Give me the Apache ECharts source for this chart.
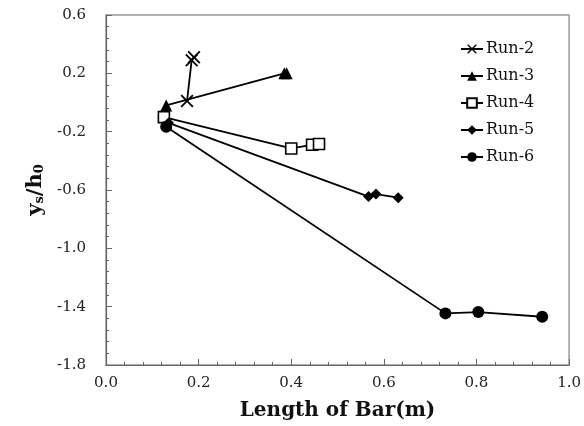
<!DOCTYPE html>
<html>
<head>
<meta charset="utf-8">
<script src="https://cdn.jsdelivr.net/npm/echarts@6/dist/echarts.min.js"></script>
<style>
  html, body { margin: 0; padding: 0; background: #fff; }
  #panel { width: 584px; height: 426px; }
</style>
</head>
<body>
<div id="panel"></div>
<script>
// data: [length of bar (m), ys/h0]
var run2 = [[0.175, 0.01], [0.185, 0.29], [0.19, 0.31]];
var run3 = [[0.13, -0.02], [0.385, 0.2], [0.39, 0.2]];
var run4 = [[0.125, -0.1], [0.40, -0.315], [0.445, -0.29], [0.46, -0.285]];
var run5 = [[0.135, -0.14], [0.567, -0.645], [0.583, -0.628], [0.631, -0.653]];
var run6 = [[0.13, -0.166], [0.733, -1.446], [0.804, -1.437], [0.942, -1.469]];
var seriesNames = ['Run-2', 'Run-3', 'Run-4', 'Run-5', 'Run-6'];

var serif = 'DejaVu Serif';
var crossPath = 'path://M0,1 L1,0 L5,4 L9,0 L10,1 L6,5 L10,9 L9,10 L5,6 L1,10 L0,9 L4,5 Z';

function mkSeries(name, data, symbol, size, fill) {
    return {
        name: name,
        type: 'line',
        data: data,
        symbol: symbol,
        symbolSize: size,
        showAllSymbol: true,
        lineStyle: { color: '#000', width: 1.8 },
        itemStyle: { color: fill, borderColor: '#000', borderWidth: fill == '#fff' ? 1.6 : 0 },
        emphasis: { disabled: true },
        z: 3
    };
}

var options = {
    backgroundColor: '#fff',
    animation: false,
    grid: { left: 106, right: 12, top: 15, bottom: 61, show: true, borderColor: '#999', borderWidth: 1.5 },
    legend: {
        orient: 'vertical',
        left: 455,
        top: 36,
        itemGap: 11,
        itemWidth: 22,
        itemHeight: 12,
        data: seriesNames,
        textStyle: { fontFamily: serif, fontSize: 16, color: '#111', padding: [0, 0, 0, -2] }
    },
    xAxis: {
        type: 'value',
        min: 0, max: 1.0, interval: 0.2,
        name: 'Length of Bar(m)',
        nameLocation: 'middle',
        nameGap: 36,
        nameTextStyle: { fontFamily: serif, fontSize: 20, fontWeight: 'bold', color: '#111' },
        axisLine: { onZero: false, lineStyle: { color: '#666', width: 1.2 } },
        axisTick: { inside: true, length: 6, lineStyle: { color: '#666' } },
        minorTick: { show: true, splitNumber: 5, length: 3, lineStyle: { color: '#666' } },
        splitLine: { show: false },
        axisLabel: {
            fontFamily: serif, fontSize: 15, color: '#222', margin: 11,
            formatter: function (v) { return v.toFixed(1); }
        }
    },
    yAxis: {
        type: 'value',
        min: -1.8, max: 0.6, interval: 0.4,
        name: '{a|y}{s|s}{a|/h}{s|0}',
        nameLocation: 'middle',
        nameGap: 54,
        nameRotate: 90,
        nameTextStyle: {
            rich: {
                a: { fontFamily: serif, fontSize: 21, fontWeight: 'bold', color: '#111', lineHeight: 26, verticalAlign: 'bottom' },
                s: { fontFamily: serif, fontSize: 13, fontWeight: 'bold', color: '#111', lineHeight: 14, verticalAlign: 'bottom' }
            }
        },
        axisLine: { onZero: false, lineStyle: { color: '#666', width: 1.2 } },
        axisTick: { inside: true, length: 6, lineStyle: { color: '#666' } },
        minorTick: { show: true, splitNumber: 5, length: 3, lineStyle: { color: '#666' } },
        splitLine: { show: false },
        axisLabel: {
            fontFamily: serif, fontSize: 15, color: '#222', margin: 20,
            formatter: function (v) { return v.toFixed(1); }
        }
    },
    series: [
        mkSeries('Run-2', run2, crossPath, 13, '#000'),
        mkSeries('Run-3', run3, 'triangle', 12, '#000'),
        mkSeries('Run-4', run4, 'rect', 11, '#fff'),
        mkSeries('Run-5', run5, 'diamond', 11, '#000'),
        mkSeries('Run-6', run6, 'circle', 12, '#000')
    ]
};

var myChart = echarts.init(document.getElementById('panel'));
myChart.setOption(options);
</script>
</body>
</html>
